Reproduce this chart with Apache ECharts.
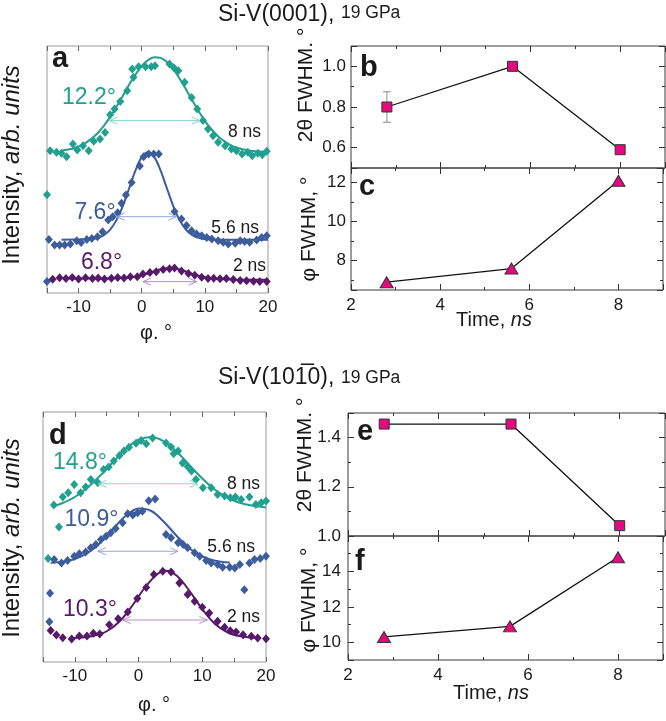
<!DOCTYPE html>
<html><head><meta charset="utf-8">
<script src="https://cdn.jsdelivr.net/npm/echarts@6.0.0/dist/echarts.min.js"></script>
<style>html,body{margin:0;padding:0;background:#fff}#c{width:666px;height:721px}</style>
</head><body><div id="c"></div>
<script>
// ---------- DATA ----------
// Panel a: Si-V(0001) azimuthal profiles (phi in degrees, intensity in arb. units, frame 0..100)
const a8Pts = [[-15,39.8],[-14.5,57.6],[-13.5,57.0],[-12.7,56.6],[-11.9,55.2],[-10.9,60.3],[-10.2,57.9],[-9.3,59.6],[-8.4,57.6],[-7.6,61.4],[-6.6,62.3],[-5.8,65.0],[-5.0,72.2],[-4.3,74.5],[-3.4,77.5],[-2.3,81.9],[-1.3,87.3],[-1.5,90.7],[-0.5,91.6],[0.6,91.6],[1.5,91.6],[2.1,92.0],[4.4,92.7],[5.1,91.2],[5.8,90.0],[6.8,85.3],[7.9,79.2],[8.8,74.5],[9.7,69.8],[10.5,66.4],[11.3,63.7],[12.1,61.0],[13.2,59.6],[14.2,58.3],[15.0,57.6],[15.9,56.3],[16.8,57.0],[17.5,55.6],[18.4,56.6],[19.1,56.0],[19.8,57.4]];
const a8Fit = [[-12.5,57.8],[-11,58.4],[-10,59.3],[-9,60.6],[-8,62.4],[-7,64.7],[-6,67.7],[-5,71.3],[-4,75.4],[-3,79.8],[-2,84.3],[-1,88.4],[0,91.9],[1,94.3],[2,95.4],[3,95.2],[4,93.5],[5,90.6],[6,86.8],[7,82.5],[8,78.0],[9,73.7],[10,69.7],[11,66.4],[12,63.7],[13,61.6],[14,60.0],[15,58.9],[16,58.2],[17,57.7],[18,57.4],[20,57.1]];
const a56Pts = [[-15,4.7],[-14.7,21.7],[-13.8,19.4],[-13.0,19.4],[-12.2,19.4],[-11.3,19.8],[-10.3,21.2],[-9.6,20.4],[-8.7,21.7],[-7.9,22.1],[-7.0,22.8],[-6.2,24.8],[-5.3,29.6],[-4.6,30.9],[-3.8,32.5],[-3.2,36.3],[-2.5,39.7],[-1.6,44.7],[-0.3,51.4],[0.3,55.2],[1.1,56.3],[1.9,56.3],[2.7,56.3],[5.2,33.0],[6.3,30.0],[7.1,27.3],[7.9,25.2],[8.7,23.9],[9.5,23.2],[10.3,22.5],[11.1,21.9],[12.1,21.2],[12.9,20.5],[13.7,19.8],[14.8,20.1],[15.6,21.2],[16.3,20.9],[17.1,20.5],[18.2,21.5],[19.0,22.5],[19.8,23.2]];
const a56Fit = [[-12.7,21.6],[-10,21.7],[-8,21.8],[-7,22.3],[-6,23.4],[-5,25.7],[-4,29.5],[-3,35.2],[-2,42.3],[-1,49.5],[0,55.0],[1,57.0],[2,55.0],[3,49.5],[4,42.3],[5,35.2],[6,29.5],[7,25.7],[8,23.4],[9,22.3],[10,21.8],[12,21.6],[20,21.6]];
const a2Pts = [[-14.1,5.6],[-13.0,6.2],[-12.0,5.9],[-11.0,6.3],[-10.0,5.7],[-8.9,6.2],[-7.8,5.9],[-6.9,6.1],[-5.9,5.7],[-4.8,6.0],[-3.8,6.3],[-2.8,6.1],[-1.8,6.6],[-0.7,6.6],[0.2,7.7],[1.3,8.3],[2.3,8.6],[3.4,9.5],[4.4,9.8],[5.2,10.1],[6.3,8.9],[7.4,7.9],[8.4,7.2],[9.5,6.4],[10.5,5.9],[11.4,6.0],[12.4,5.8],[13.4,5.9],[14.5,5.5],[15.6,5.1],[16.6,5.0],[17.7,4.8],[18.7,4.7],[19.8,4.7]];
const a2Fit = [[-12,5.9],[-8,5.9],[-4,6.0],[-2,6.2],[-1,6.6],[0,7.2],[1,7.9],[2,8.8],[3,9.6],[4,10.0],[5,10.0],[6,9.5],[7,8.7],[8,7.7],[9,7.0],[10,6.4],[11,6.0],[12,5.7],[14,5.5],[16,5.4],[20,5.4]];
const aArrows = [[-5.1,9.2,69.8],[-4.0,5.5,30.9],[0.2,8.7,4.6]];   // [phi start, phi end, level]

// Panel d: Si-V(10-10) azimuthal profiles
const d8Pts = [[-14.2,41.4],[-12.5,54.0],[-13.3,62.8],[-11.9,66.0],[-11.05,67.7],[-10.1,71.0],[-9.1,67.7],[-8.3,70.0],[-7.5,73.0],[-6.4,71.7],[-5.5,77.0],[-4.7,78.0],[-3.9,80.4],[-3.0,82.6],[-2.3,84.4],[-1.5,85.9],[-0.4,87.5],[0.4,88.6],[1.2,87.3],[2.2,89.6],[4.3,87.6],[5.1,86.0],[5.5,83.3],[6.2,84.4],[6.9,79.6],[7.7,78.2],[8.3,76.4],[9.0,73.0],[10.1,69.7],[11.4,69.7],[12.4,67.0],[13.5,66.4],[14.4,65.7],[15.2,66.0],[16.1,65.0],[17.4,66.0],[18.4,63.0],[19.25,63.7],[20,64.4]];
const d8Fit = [[-13.5,62.2],[-12,63.5],[-10,66.0],[-8,69.8],[-6,74.6],[-4,80.0],[-2,85.3],[0,88.9],[2,90.0],[4,88.2],[6,84.1],[8,78.7],[10,73.4],[12,68.9],[14,65.7],[16,63.6],[18,62.5],[20,61.8]];
const d56Pts = [[-13.9,27.5],[-14.0,16.1],[16.6,28.9],[-13.25,41.0],[-12.1,39.6],[-11.15,40.6],[-10.1,42.3],[-9.3,43.3],[-8.3,44.0],[-7.5,45.7],[-6.7,47.0],[-5.9,49.0],[-5.1,50.3],[-4.35,51.7],[-3.6,53.4],[-2.5,55.7],[-1.7,59.3],[-0.9,58.8],[-0.15,59.7],[0.6,60.3],[1.6,64.5],[2.6,65.2],[4.3,51.0],[5.1,49.7],[6.2,47.7],[7.0,47.0],[7.7,45.7],[8.8,43.7],[9.6,42.3],[10.6,40.6],[11.4,39.6],[12.4,39.0],[13.2,37.9],[14.3,37.9],[15.1,37.6],[15.9,39.0],[17.4,39.6],[18.2,41.0],[19.1,41.4],[20,42.3]];
const d56Fit = [[-13.8,39.7],[-12,40.1],[-10,41.2],[-8,43.6],[-6,47.7],[-4,53.2],[-2,58.5],[0,61.4],[2,60.4],[4,56.0],[6,50.4],[8,45.4],[10,42.2],[12,40.5],[14.3,39.8]];
const d2Pts = [[-13.8,12.6],[-12.9,10.8],[-11.9,9.7],[-10.5,9.2],[-9.3,10.4],[-8.1,10.4],[-7.1,11.5],[-6.1,11.2],[-4.6,14.9],[-3.2,17.3],[-1.7,20.0],[-0.2,25.4],[1.2,29.8],[2.4,35.0],[3.8,36.3],[5.1,36.0],[6.4,31.6],[7.7,27.0],[8.8,24.3],[10.0,21.9],[11.1,19.6],[12.4,16.3],[13.5,13.9],[14.4,12.5],[15.3,12.0],[16.4,10.9],[17.7,10.3],[18.7,9.6],[20.0,9.3]];
const d2Fit = [[-10.9,9.6],[-9,9.8],[-7,10.5],[-5,12.3],[-3,16.2],[-1,22.5],[1,29.8],[3,35.3],[4.3,36.5],[6,34.5],[8,28.4],[10,21.1],[12,15.2],[14,11.8],[16,10.3],[18.7,9.6]];
const dArrows = [[-6.3,9.3,71.3],[-6.4,6.2,44.3],[-2.5,10.8,16.8]];

// Right panels: FWHM vs time
const times = [2.8, 5.6, 8];
const bTwoTheta = [0.80, 1.00, 0.59];
const bErr = [[2.8, 0.725, 0.875]];
const cPhi = [6.9, 7.6, 12.1];
const eTwoTheta = [1.455, 1.455, 1.042];
const fPhi = [10.3, 10.9, 14.8];

// Tick labels
const phiTicks = [-10, 0, 10, 20];
const timeTicks = [2, 4, 6, 8];
const bTicks = [0.6, 0.8, 1.0];
const cTicks = [8, 10, 12];
const eTicks = [1.0, 1.2, 1.4];
const fTicks = [10, 12, 14];

// ---------- STYLE ----------
const FONT = '"Liberation Sans", Arial, sans-serif';
const TEAL = '#22a08f', BLUE = '#3d5c9c', PURPLE = '#571969';
const TEAL_L = '#8ad6cc', BLUE_L = '#93a7d6', PURPLE_L = '#b48ec7';
const arrowColors = [TEAL_L, BLUE_L, PURPLE_L];
const PINK = '#e6087f';
const TXT = '#1a1a1a';

function tickFmt(list, digits) {
  return function (v) { return list.some(t => Math.abs(t - v) < 1e-6) ? Number(v).toFixed(digits) : ''; };
}
function valAxis(o, tickColor) {
  const c = tickColor || '#333';
  return Object.assign({
    type: 'value', splitLine: { show: false }, minorSplitLine: { show: false },
    axisLine: { show: false },
    axisTick: { show: true, inside: true, length: 6, lineStyle: { color: c, width: 1 } },
    minorTick: { show: true, splitNumber: 2, length: 3, lineStyle: { color: c, width: 1 } },
    axisLabel: { show: false }
  }, o);
}
function lbl(list, digits, margin) {
  return { show: true, formatter: tickFmt(list, digits), fontSize: 17, color: TXT, fontFamily: FONT, margin: margin, showMinLabel: true, showMaxLabel: true };
}

const grids = [
  { left: 47, top: 46, width: 221, height: 247 },   // a
  { left: 351, top: 46, width: 314, height: 122 },  // b
  { left: 351, top: 168, width: 314, height: 122 }, // c
  { left: 43, top: 412, width: 223, height: 250 },  // d
  { left: 348, top: 413, width: 317, height: 123 }, // e
  { left: 348, top: 536, width: 317, height: 124 }  // f
].map((g, i) => Object.assign({ show: true, borderColor: (i === 0 || i === 3) ? '#9c9c9c' : '#3a3a3a', borderWidth: 1, containLabel: false }, g));

const phiAxis = (gi, pos, labels) => valAxis({ gridIndex: gi, position: pos, min: -15, max: 20, splitNumber: 3,
  axisTick: { show: true, inside: true, length: 5, lineStyle: { color: '#666' } },
  minorTick: { show: true, splitNumber: 2, length: 4, lineStyle: { color: '#666' } },
  axisLabel: labels ? lbl(phiTicks, 0, 6) : { show: false } });
const timeAxis = (gi, pos, labels) => valAxis({ gridIndex: gi, position: pos, min: 2, max: 9, splitNumber: 3,
  axisLabel: labels ? lbl(timeTicks, 0, 7) : { show: false } });

const xAxis = [
  phiAxis(0, 'bottom', true), phiAxis(0, 'top', false),
  timeAxis(1, 'bottom', false), timeAxis(1, 'top', false),
  timeAxis(2, 'bottom', true), timeAxis(2, 'top', false),
  phiAxis(3, 'bottom', true), phiAxis(3, 'top', false),
  timeAxis(4, 'bottom', false), timeAxis(4, 'top', false),
  timeAxis(5, 'bottom', true), timeAxis(5, 'top', false)
];
const yAxis = [
  { type: 'value', gridIndex: 0, min: 0, max: 100, show: false },
  valAxis({ gridIndex: 1, position: 'left', min: 0.5, max: 1.1, splitNumber: 3, axisLabel: lbl(bTicks, 1, 5) }),
  valAxis({ gridIndex: 1, position: 'right', min: 0.5, max: 1.1, splitNumber: 3 }),
  valAxis({ gridIndex: 2, position: 'left', min: 6.5, max: 12.75, splitNumber: 3, axisLabel: lbl(cTicks, 0, 5) }),
  valAxis({ gridIndex: 2, position: 'right', min: 6.5, max: 12.75, splitNumber: 3 }),
  { type: 'value', gridIndex: 3, min: 0, max: 100, show: false },
  valAxis({ gridIndex: 4, position: 'left', min: 1.0, max: 1.5, splitNumber: 3, axisLabel: lbl(eTicks, 1, 7) }),
  valAxis({ gridIndex: 4, position: 'right', min: 1.0, max: 1.5, splitNumber: 3 }),
  valAxis({ gridIndex: 5, position: 'left', min: 9, max: 16, splitNumber: 3, axisLabel: lbl(fTicks, 0, 7) }),
  valAxis({ gridIndex: 5, position: 'right', min: 9, max: 16, splitNumber: 3 })
];

function scatter(xi, yi, data, color) {
  return { type: 'scatter', xAxisIndex: xi, yAxisIndex: yi, data: data, symbol: 'diamond', symbolSize: [8, 9],
    itemStyle: { color: color, opacity: 1 }, z: 4, silent: true, clip: false };
}
function fit(xi, yi, data, color) {
  return { type: 'line', xAxisIndex: xi, yAxisIndex: yi, data: data, smooth: 0.35, symbol: 'none',
    lineStyle: { color: color, width: 2 }, z: 3, silent: true };
}
function arrows(xi, yi, data) {
  return { type: 'custom', xAxisIndex: xi, yAxisIndex: yi, data: data, encode: { x: [0, 1], y: 2 }, z: 5, silent: true,
    renderItem: function (params, api) {
      const p1 = api.coord([api.value(0), api.value(2)]);
      const p2 = api.coord([api.value(1), api.value(2)]);
      const c = arrowColors[params.dataIndex];
      const h = 8, w = 3.5;
      const st = { stroke: c, lineWidth: 1, fill: null };
      return { type: 'group', children: [
        { type: 'line', shape: { x1: p1[0], y1: p1[1], x2: p2[0], y2: p2[1] }, style: st },
        { type: 'polyline', shape: { points: [[p1[0] + h, p1[1] - w], [p1[0], p1[1]], [p1[0] + h, p1[1] + w]] }, style: st },
        { type: 'polyline', shape: { points: [[p2[0] - h, p2[1] - w], [p2[0], p2[1]], [p2[0] - h, p2[1] + w]] }, style: st }
      ] };
    } };
}
function fwhm(xi, yi, vals, sym, size) {
  return { type: 'line', xAxisIndex: xi, yAxisIndex: yi, data: times.map((t, i) => [t, vals[i]]),
    symbol: sym, symbolSize: size, showAllSymbol: true,
    lineStyle: { color: '#111', width: 1.3 }, itemStyle: { color: PINK, borderColor: '#333', borderWidth: 1 }, z: 4, silent: true };
}

const series = [
  fit(0, 0, a8Fit, TEAL), scatter(0, 0, a8Pts, TEAL),
  fit(0, 0, a56Fit, BLUE), scatter(0, 0, a56Pts, BLUE),
  fit(0, 0, a2Fit, PURPLE), scatter(0, 0, a2Pts, PURPLE),
  arrows(0, 0, aArrows),
  fit(6, 5, d8Fit, TEAL), scatter(6, 5, d8Pts, TEAL),
  fit(6, 5, d56Fit, BLUE), scatter(6, 5, d56Pts, BLUE),
  fit(6, 5, d2Fit, PURPLE), scatter(6, 5, d2Pts, PURPLE),
  arrows(6, 5, dArrows),
  { type: 'custom', xAxisIndex: 2, yAxisIndex: 1, data: bErr, encode: { x: 0, y: [1, 2] }, z: 2, silent: true,
    renderItem: function (params, api) {
      const x = api.value(0);
      const lo = api.coord([x, api.value(1)]), hi = api.coord([x, api.value(2)]);
      const w = 4, st = { stroke: '#8a8a8a', lineWidth: 1 };
      return { type: 'group', children: [
        { type: 'line', shape: { x1: lo[0], y1: lo[1], x2: hi[0], y2: hi[1] }, style: st },
        { type: 'line', shape: { x1: lo[0] - w, y1: lo[1], x2: lo[0] + w, y2: lo[1] }, style: st },
        { type: 'line', shape: { x1: hi[0] - w, y1: hi[1], x2: hi[0] + w, y2: hi[1] }, style: st }
      ] };
    } },
  fwhm(2, 1, bTwoTheta, 'rect', 10),
  fwhm(4, 3, cPhi, 'triangle', [13, 11]),
  fwhm(8, 6, eTwoTheta, 'rect', 10),
  fwhm(10, 8, fPhi, 'triangle', [13, 11])
];

function txt(x, y, text, size, opts) {
  opts = opts || {};
  return { type: 'text', x: x, y: y, rotation: opts.rot || 0, silent: true, z: 10,
    style: Object.assign({ text: text, fontSize: size, fontFamily: FONT, fill: opts.fill || TXT,
      fontWeight: opts.bold ? 'bold' : 'normal', align: opts.align || 'center', verticalAlign: 'middle' }, opts.style || {}) };
}
function richTxt(x, y, text, size, rot, align) {
  return { type: 'text', x: x, y: y, rotation: rot || 0, silent: true, z: 10,
    style: { text: text, fontSize: size, fontFamily: FONT, fill: TXT, align: align || 'center', verticalAlign: 'middle',
      rich: { n: { fontSize: size, fontFamily: FONT, fill: TXT }, i: { fontSize: size, fontFamily: FONT, fill: TXT, fontStyle: 'italic' } } } };
}

const graphic = [
  // titles
  txt(218, 15, 'Si-V(0001),', 23, { align: 'left' }),
  txt(341, 13, '19 GPa', 17.5, { align: 'left' }),
  txt(218, 378, 'Si-V(10\u0031\u03050),', 23, { align: 'left' }),
  txt(341, 378.5, '19 GPa', 17.5, { align: 'left' }),
  // panel letters
  txt(52, 59, 'a', 29, { bold: true, align: 'left' }),
  txt(360, 68, 'b', 29, { bold: true, align: 'left' }),
  txt(359, 187, 'c', 29, { bold: true, align: 'left' }),
  txt(49, 436, 'd', 29, { bold: true, align: 'left' }),
  txt(357, 432, 'e', 29, { bold: true, align: 'left' }),
  txt(355, 562, 'f', 29, { bold: true, align: 'left' }),
  // curve annotations, panel a
  txt(89, 98, '12.2°', 23, { fill: TEAL }),
  txt(95, 213, '7.6°', 23, { fill: BLUE }),
  txt(101.5, 263, '6.8°', 23, { fill: PURPLE }),
  txt(261, 132.5, '8 ns', 17.5, { align: 'right' }),
  txt(259, 228, '5.6 ns', 17.5, { align: 'right' }),
  txt(266, 266.5, '2 ns', 17.5, { align: 'right' }),
  // curve annotations, panel d
  txt(80, 463, '14.8°', 23, { fill: TEAL }),
  txt(91.5, 519.5, '10.9°', 23, { fill: BLUE }),
  txt(90, 609.5, '10.3°', 23, { fill: PURPLE }),
  txt(260, 484, '8 ns', 17.5, { align: 'right' }),
  txt(255, 547.5, '5.6 ns', 17.5, { align: 'right' }),
  txt(260, 617, '2 ns', 17.5, { align: 'right' }),
  // axis titles
  richTxt(12, 165, '{n|Intensity, }{i|arb. units}', 24, Math.PI / 2),
  richTxt(12, 538, '{n|Intensity, }{i|arb. units}', 24, Math.PI / 2),
  txt(156, 333, 'φ. °', 20),
  txt(154, 705, 'φ. °', 20),
  richTxt(494, 320, '{n|Time, }{i|ns}', 20),
  richTxt(491, 693, '{n|Time, }{i|ns}', 20),
  txt(306.5, 85, '2θ FWHM. °', 21, { rot: Math.PI / 2 }),
  txt(309.5, 229, 'φ FWHM, °', 21, { rot: Math.PI / 2 }),
  txt(305.5, 455, '2θ FWHM. °', 21, { rot: Math.PI / 2 }),
  txt(309.5, 600, 'φ FWHM, °', 21, { rot: Math.PI / 2 })
];

const chart = echarts.init(document.getElementById('c'), null, { renderer: 'canvas' });
chart.setOption({ animation: false, backgroundColor: '#fff', grid: grids, xAxis: xAxis, yAxis: yAxis, series: series, graphic: graphic });
</script></body></html>
